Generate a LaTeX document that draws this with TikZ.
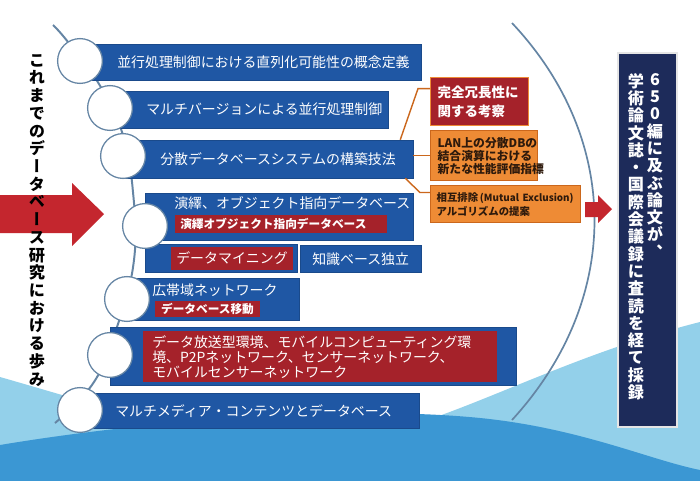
\documentclass[tikz,border=0pt]{standalone}
\usepackage{fontspec}
\setmainfont{Noto Sans CJK JP}
\newfontfamily\jpv{Noto Sans CJK JP}[RawFeature=+vert]
\usepackage{tikz}
\usetikzlibrary{fit}
\definecolor{dbblue}{HTML}{1F57A4}
\definecolor{dbred}{HTML}{A5222A}
\definecolor{arrowred}{HTML}{C4262E}
\definecolor{ringgray}{HTML}{6585A4}
\definecolor{orgfill}{HTML}{EE8B35}
\definecolor{orgline}{HTML}{CB671C}
\definecolor{orgtext}{HTML}{2E1A0C}
\definecolor{navy}{HTML}{1D2B5A}
\definecolor{wavelight}{HTML}{93D0EA}
\definecolor{wavedark}{HTML}{3B97D3}

% vertical stack of characters, one per line
\makeatletter
\newcommand\tate[2]{\vbox{\baselineskip=#1\lineskiplimit=-\maxdimen
  \@tfor\tatech:=#2\do{\hbox to 1em{\hss\tatech\hss}}}}
\makeatother

\begin{document}
\begin{tikzpicture}[x=0.025cm,y=-0.025cm,
  bar/.style={fill=dbblue,draw=dbblue!85!black,inner sep=0pt},
  bartxt/.style={text=white,font=\fontsize{9.9}{12}\selectfont,inner sep=0pt,anchor=west},
  redin/.style={fill=dbred,inner sep=0pt,text=white},
  ring/.style={circle,draw=ringgray,line width=0.9pt,fill=white,minimum size=1.12cm,inner sep=0pt},
  note/.style={draw=orgline,line width=0.9pt,fill=orgfill,text=orgtext,align=left,
    anchor=north west,inner xsep=0.175cm,inner ysep=0pt},
  link/.style={orgline,line width=1pt},
  tline/.style={ringgray,line width=1.4pt}]
  \useasboundingbox (0,0) rectangle (700,481);
  \fill[white] (0,0) rectangle (700,481);

  % waves at the bottom
  \fill[wavelight] (0,377) .. controls (150,420) and (250,455) .. (350,440)
    .. controls (450,425) and (550,360) .. (700,322) -- (700,481) -- (0,481) -- cycle;
  \fill[wavedark] (0,445) .. controls (150,420) and (350,405) .. (480,418)
    .. controls (580,428) and (650,460) .. (700,470) -- (700,481) -- (0,481) -- cycle;

  % big arc and timeline
  \coordinate (arcTop) at (512,23);
  \coordinate (arcEnd) at (512,420);
  \draw[tline,line width=1.2pt] (arcTop) .. controls (622,140) and (622,300) .. (arcEnd);
  \draw[tline] plot[smooth,tension=0.7] coordinates {(53,25) (68,42) (99,84) (122,132)
    (133,192) (134,260) (117,327) (94,382) (55,423)};

  % bars
  \node[bar,fit={(80,44) (421,80)}] (b1) {};
  \node[bar,fit={(110,91) (388,128)}] (b2) {};
  \node[bar,fit={(122,140) (413,178)}] (b3) {};
  \node[bar,fit={(145,193) (413,240)}] (b4) {};
  \node[bar,fit={(145,244) (297,272)}] (b5) {};
  \node[bar,fit={(300,245) (421,272)}] (b5b) {};
  \node[bar,fit={(127,278) (299,320)}] (b6) {};
  \node[bar,fit={(110,327) (516,385)}] (b7) {};
  \node[bar,fit={(80,393) (419,428)}] (b8) {};

  \node[redin,anchor=west,text width=5.05cm,inner xsep=0.125cm,minimum height=0.45cm,
    font=\bfseries\fontsize{8.3}{10}\selectfont] (r4) at (175,224) {演繹オブジェクト指向データベース};
  \node[redin,minimum width=3.05cm,minimum height=0.575cm,
    font=\fontsize{9.9}{12}\selectfont] (r5) at (232,258.5) {データマイニング};
  \node[redin,minimum width=2.625cm,minimum height=0.4cm,
    font=\bfseries\fontsize{8.3}{10}\selectfont] (r6) at (207.5,309) {データベース移動};
  \node[redin,anchor=north west,text width=8.4cm,inner xsep=0.225cm,minimum height=1.275cm,
    align=left,font=\fontsize{9.9}{10.7}\selectfont] (r7) at (143,331)
    {データ放送型環境、モバイルコンピューティング環\\境、P2Pネットワーク、センサーネットワーク、\\モバイルセンサーネットワーク};

  % circles on the timeline
  \node[ring] (c1) at (80,61) {};
  \node[ring] (c2) at (110,108) {};
  \node[ring] (c3) at (123,156) {};
  \node[ring] (c4) at (145,226) {};
  \node[ring] (c5) at (127,299) {};
  \node[ring] (c6) at (110,355) {};
  \node[ring] (c7) at (80,410) {};

  \node[bartxt] (t1) at (117,62) {並行処理制御における直列化可能性の概念定義};
  \node[bartxt] (t2) at (146,109) {マルチバージョンによる並行処理制御};
  \node[bartxt] (t3) at (160,159) {分散データベースシステムの構築技法};
  \node[bartxt] (t4) at (174,203) {演繹、オブジェクト指向データベース};
  \node[bartxt] (t5) at (312,259) {知識ベース独立};
  \node[bartxt] (t6) at (152,290) {広帯域ネットワーク};
  \node[bartxt] (t8) at (115,411) {マルチメディア・コンテンツとデータベース};

  % notes on the right of the third bar
  \node[note,fill=dbred,draw=orgfill,text=white,text width=2.1cm,minimum height=1.2cm,
    font=\bfseries\fontsize{9.6}{13.5}\selectfont] (o1) at (430,77) {完全冗長性に\\関する考察};
  \node[note,text width=2.325cm,minimum height=1.25cm,
    font=\bfseries\fontsize{8.4}{9.3}\selectfont] (o2) at (430,130)
    {LAN上の分散DBの\\結合演算における\\新たな性能評価指標};
  \node[note,text width=3.45cm,inner xsep=0.15cm,minimum height=0.925cm,
    font=\bfseries\fontsize{7.4}{10}\selectfont] (o3) at (430,185)
    {相互排除\,{\fontsize{7}{10}\selectfont(Mutual Exclusion)}\\アルゴリズムの提案};
  \draw[link] ([yshift=0.325cm]o1.west) -- ++(-12,0) -- ([xshift=-0.325cm]b3.north east);
  \draw[link] (o2.west) -- (o2.west -| b3.east);
  \draw[link] ([yshift=0.29cm]o3.west) -- ++(-10,0) -- ([xshift=-0.2cm]b3.south east);

  % arrows
  \fill[arrowred] (0,195) -- (72,195) -- (72,183) -- (104,214) -- (72,246) -- (72,233)
    -- (0,233) -- cycle;
  \fill[arrowred] (585,202) -- (598,202) -- (598,195) -- (612,209) -- (598,223)
    -- (598,217) -- (585,217) -- cycle;

  % vertical texts
  \node[inner sep=0pt,anchor=north,font=\jpv\bfseries\fontsize{11.5}{12.6}\selectfont] (ayumi)
    at (37,54) {\tate{12.6pt}{これまでのデータベース研究における歩み}};
  \node[fit={(618,53) (677,427)},inner sep=0pt,fill=navy,draw=white!80!gray,line width=1.2pt] (kekka) {};
  \node[inner sep=0pt,anchor=north,text=white,font=\jpv\bfseries\fontsize{11.5}{12.3}\selectfont] (k1)
    at (655,73) {\tate{12.3pt}{650編に及ぶ論文が、}};
  \node[inner sep=0pt,anchor=north,text=white,font=\jpv\bfseries\fontsize{11.5}{12.3}\selectfont] (k2)
    at (636,73) {\tate{12.3pt}{学術論文誌・国際会議録に査読を経て採録}};
\end{tikzpicture}
\end{document}
